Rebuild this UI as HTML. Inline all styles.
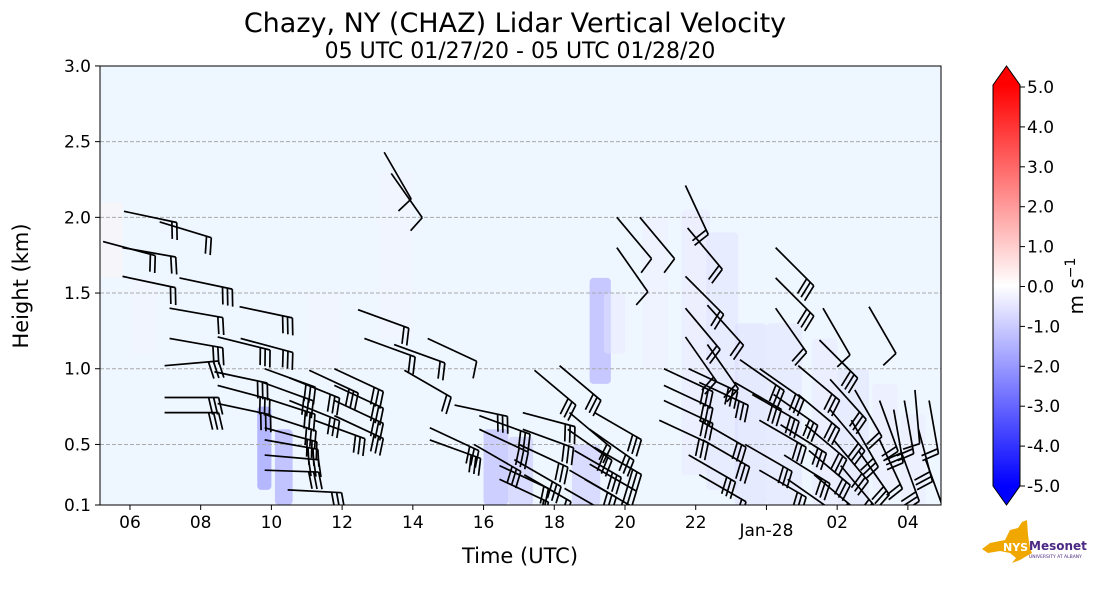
<!DOCTYPE html>
<html><head><meta charset="utf-8">
<style>
body{margin:0;background:#fff;width:1101px;height:600px;overflow:hidden;font-family:"Liberation Sans","DejaVu Sans",sans-serif;}
svg text{font-family:"DejaVu Sans","Liberation Sans",sans-serif;}
</style></head>
<body>
<svg id="chart" width="1101" height="600" viewBox="0 0 1101 600" xmlns="http://www.w3.org/2000/svg">
<defs>
<linearGradient id="cbgrad" x1="0" y1="1" x2="0" y2="0">
<stop offset="0" stop-color="#0000ff"/>
<stop offset="0.5" stop-color="#ffffff"/>
<stop offset="1" stop-color="#ff0000"/>
</linearGradient>
<clipPath id="plotclip"><rect x="100" y="66" width="841" height="439"/></clipPath>
</defs>
<text x="515" y="32" font-size="27" text-anchor="middle" fill="#000">Chazy, NY (CHAZ) Lidar Vertical Velocity</text>
<text x="520" y="58" font-size="22" text-anchor="middle" fill="#000">05 UTC 01/27/20 - 05 UTC 01/28/20</text>
<rect x="100" y="66" width="841" height="439" fill="#eef6ff"/>
<g id="patches" clip-path="url(#plotclip)"></g>
<g id="grid"></g>
<g id="barbs" clip-path="url(#plotclip)"></g>
<rect x="100" y="66" width="841" height="439" fill="none" stroke="#000" stroke-width="1"/>
<g id="axes"></g>
<text x="520" y="563" font-size="21" text-anchor="middle">Time (UTC)</text>
<text transform="translate(28,286) rotate(-90)" font-size="21" text-anchor="middle">Height (km)</text>
<g>
<rect x="993" y="85" width="27" height="401" fill="url(#cbgrad)"/>
<polygon points="993,85 1006.5,66 1020,85" fill="#ff0000"/>
<polygon points="993,486 1006.5,505 1020,486" fill="#0000ff"/>
<polygon points="993,85 1006.5,66 1020,85 1020,486 1006.5,505 993,486" fill="none" stroke="#000" stroke-width="1"/>
<g id="cbticks"></g>
<text transform="translate(1083,286) rotate(-90)" font-size="20" text-anchor="middle">m s<tspan font-size="14" dy="-8">−1</tspan></text>
</g>
<g>
<polygon points="982,549 990,543 1005,540 1010,530 1018,528 1022,522 1027,520 1028,535 1030,548 1032,553 1025,557 1020,560 1012,563 1016,558 1010,553 1000,551 988,553" fill="#f0a800"/>
<text x="1003" y="551" font-size="11" font-weight="bold" fill="#fff" font-family="Liberation Sans">NYS</text>
<text x="1029" y="550" font-size="12" font-weight="bold" fill="#4b2883" font-family="Liberation Sans">Mesonet</text>
<text x="1029" y="558" font-size="4.5" fill="#4b2883" font-family="Liberation Sans">UNIVERSITY AT ALBANY</text>
</g>
</svg>
<script>
// wind barb data: hours after 05 UTC, height (km), staff angle (deg below east), barb count
const barbHours = [0.24,0.83,1.84,0.79,0.79,2.40,2.12,4.10,2.12,4.13,1.98,3.48,3.39,3.48,1.98,1.98,3.48,
4.81,4.75,4.78,4.81,4.81,4.81,4.81,4.81,5.46,5.51,5.51,6.07,6.78,6.78,6.78,6.78,6.21,7.45,7.63,8.76,8.47,9.42,8.19,8.39,
9.48,9.48,10.18,10.88,10.88,10.73,11.45,11.45,12.11,12.11,12.0,11.87,12.15,
13.43,13.38,13.57,13.43,13.29,14.14,14.0,14.14,14.0,13.86,12.44,13.15,
14.77,15.42,14.77,16.71,16.77,16.71,17.33,16.71,16.71,17.33,19.26,19.26,19.26,20.6,21.9,
16.1,16.1,16.1,16.8,17.1,18.1,18.25,18.81,18.6,18.8,18.4,18.8,19.2,19.4,19.5,19.6,19.9,19.9,20.1,20.2,20.35,
20.5,20.8,20.8,20.9,21.1,21.5,21.4,21.6,22.2,22.2,22.6,22.9,23.2,22.8,23.3,23.5,23.6,17.1,17.2,16.8,17.1,15.97];
const barbHeights = [1.84,2.04,1.97,1.80,1.61,1.60,1.40,1.41,1.20,1.20,1.02,1.21,0.98,0.89,0.81,0.71,0.77,
1.0,0.91,0.81,0.70,0.61,0.53,0.43,0.33,0.20,0.94,0.79,0.99,1.0,0.89,0.79,0.69,0.66,1.39,1.20,0.99,1.16,1.20,2.43,2.29,
0.61,0.53,0.76,0.69,0.60,0.50,0.36,0.27,0.71,0.60,0.50,0.40,0.30,
0.71,0.60,0.46,0.33,0.21,0.71,0.60,0.48,0.37,0.27,0.99,1.02,
2.0,2.0,1.80,2.21,1.93,1.61,1.42,1.40,1.21,1.16,1.80,1.60,1.40,1.40,1.41,
1.0,0.89,0.79,1.0,0.91,0.91,1.06,1.0,0.83,0.66,0.50,0.33,0.83,0.63,0.43,0.27,1.02,0.83,0.63,0.46,0.30,
1.19,0.93,0.73,0.53,0.36,0.86,0.66,0.46,0.79,0.53,0.73,0.79,0.86,0.46,0.60,0.40,0.79,0.66,0.53,0.43,0.30,0.66];
const barbDirs = [15,12,17,10,12,12,10,12,10,15,-5,14,12,15,0,0,12,
20,20,18,18,15,10,5,2,3,22,22,25,25,25,25,25,20,20,20,30,20,25,60,55,
25,20,12,20,25,30,25,25,15,20,25,30,30,
40,35,30,30,30,30,35,30,30,30,40,40,
50,50,55,65,50,45,48,50,55,55,45,45,55,60,60,
25,25,25,25,25,30,35,35,30,30,30,30,35,32,32,35,40,40,40,40,40,
45,48,50,50,50,60,60,55,70,65,80,80,85,70,75,70,80,30,30,30,30,25];
const barbSpeeds = [2,2,2,2,2,3,2,3,3,3,3,3,3,3,3,3,3,
3,3,3,3,3,3,3,3,3,3,3,3,3,3,3,3,3,2,2,2,2,1,1,1,
3,3,3,3,3,3,2,2,3,3,3,3,2,
2,3,3,3,2,3,3,3,3,3,3,3,
1,1,1,2,2,2,2,2,2,2,3,3,2,1,1,
3,3,3,3,3,3,3,3,3,3,3,3,3,3,3,2,3,3,3,3,3,
3,3,3,3,3,2,3,3,2,2,3,2,1,3,3,2,2,3,3,3,2,3];
// shading patches: hour start, hour end, km bottom, km top, velocity (m/s)
const patchH0 = [4.6,5.1,11.0,11.7,13.5,14.0,14.4,16.6,17.3,18.1,19.0,20.3,21.0,22.0,22.8,15.5,16.8,0.1,1.0,6.0,8.0];
const patchH1 = [5.0,5.6,11.7,12.4,14.3,14.6,15.0,17.4,18.2,19.0,20.0,21.0,21.9,22.7,23.5,16.2,17.2,0.8,1.8,7.0,9.0];
const patchZ0 = [0.2,0.1,0.1,0.1,0.1,0.9,1.1,0.3,0.2,0.1,0.1,0.1,0.1,0.2,0.1,1.0,1.2,1.6,1.1,1.0,1.2];
const patchZ1 = [0.75,0.6,0.6,0.55,0.5,1.6,1.5,2.05,1.9,1.3,1.3,1.2,1.0,0.9,0.7,2.0,2.0,2.1,1.6,1.5,2.3];
const patchV = [-1.8,-1.5,-1.2,-0.9,-0.9,-1.4,-0.5,-0.5,-0.6,-0.7,-0.6,-0.5,-0.6,-0.4,-0.4,-0.3,-0.3,0.2,-0.2,-0.2,-0.2];
const yTicks = [0.1,0.5,1.0,1.5,2.0,2.5,3.0];
const yTickLabels = ["0.1","0.5","1.0","1.5","2.0","2.5","3.0"];
const xTickHours = [1,3,5,7,9,11,13,15,17,19,21,23];
const xTickLabels = ["06","08","10","12","14","16","18","20","22","Jan-28","02","04"];
const cbTicks = [5,4,3,2,1,0,-1,-2,-3,-4,-5];

const NS="http://www.w3.org/2000/svg";
const xS = h => 94.6 + h*35.36;
const yS = z => 505 - (z-0.1)*151.4;
const cbY = v => 286.5 - v*39.9;
function mk(tag, attrs, parent){const e=document.createElementNS(NS,tag);for(const k in attrs)e.setAttribute(k,attrs[k]);parent.appendChild(e);return e;}
function velColor(v){const t=Math.min(1,Math.abs(v)/5);const c=Math.round(255*(1-t));return v<0?`rgb(${c},${c},255)`:`rgb(255,${c},${c})`;}

const gp=document.getElementById('patches');
for(let i=0;i<patchH0.length;i++){
  const r=mk('rect',{x:xS(patchH0[i]),y:yS(patchZ1[i]),width:xS(patchH1[i])-xS(patchH0[i]),height:yS(patchZ0[i])-yS(patchZ1[i]),fill:velColor(patchV[i]),opacity:Math.abs(patchV[i])>0.8?0.75:0.45,rx:4},gp);
  
  
}
const gg=document.getElementById('grid');
const ga=document.getElementById('axes');
yTicks.forEach((z,i)=>{
  const y=yS(z);
  if(i>0&&i<yTicks.length-1){const l=mk('line',{x1:100,x2:941,y1:y,y2:y,stroke:'#aaa','stroke-dasharray':'4,2','stroke-width':1},gg);
    
    }
  mk('line',{x1:95,x2:100,y1:y,y2:y,stroke:'#000'},ga);
  const t=mk('text',{x:91,y:y+6,'font-size':17,'text-anchor':'end'},ga);t.textContent=yTickLabels[i];
  
  
});
xTickHours.forEach((h,i)=>{
  const x=xS(h);
  mk('line',{x1:x,x2:x,y1:505,y2:510,stroke:'#000'},ga);
  const lab=xTickLabels[i];
  const t=mk('text',{x:x,y:lab.length>2?536:528,'font-size':17,'text-anchor':'middle'},ga);t.textContent=lab;
  
  
});
const gc=document.getElementById('cbticks');
cbTicks.forEach(v=>{
  const y=cbY(v);
  mk('line',{x1:1020,x2:1025,y1:y,y2:y,stroke:'#000'},gc);
  const t=mk('text',{x:1027,y:y+6,'font-size':17},gc);t.textContent=v.toFixed(1);
  
  
});
const gb=document.getElementById('barbs');
for(let i=0;i<barbHours.length;i++){
  const x0=xS(barbHours[i]),y0=yS(barbHeights[i]);
  const a=barbDirs[i]*Math.PI/180, L=54;
  const dx=Math.cos(a),dy=Math.sin(a);
  const x1=x0+dx*L,y1=y0+dy*L;
  const g=mk('g',{},gb);
  
  
  mk('line',{x1:x0,y1:y0,x2:x1,y2:y1,stroke:'#000','stroke-width':1.7},g);
  const px=-dy,py=dx;
  for(let k=0;k<barbSpeeds[i];k++){
    const bx=x1-dx*k*5,by=y1-dy*k*5;
    mk('line',{x1:bx,y1:by,x2:bx+px*17+dx*4,y2:by+py*17+dy*4,stroke:'#000','stroke-width':1.7},g);
  }
}
</script>
</body></html>
